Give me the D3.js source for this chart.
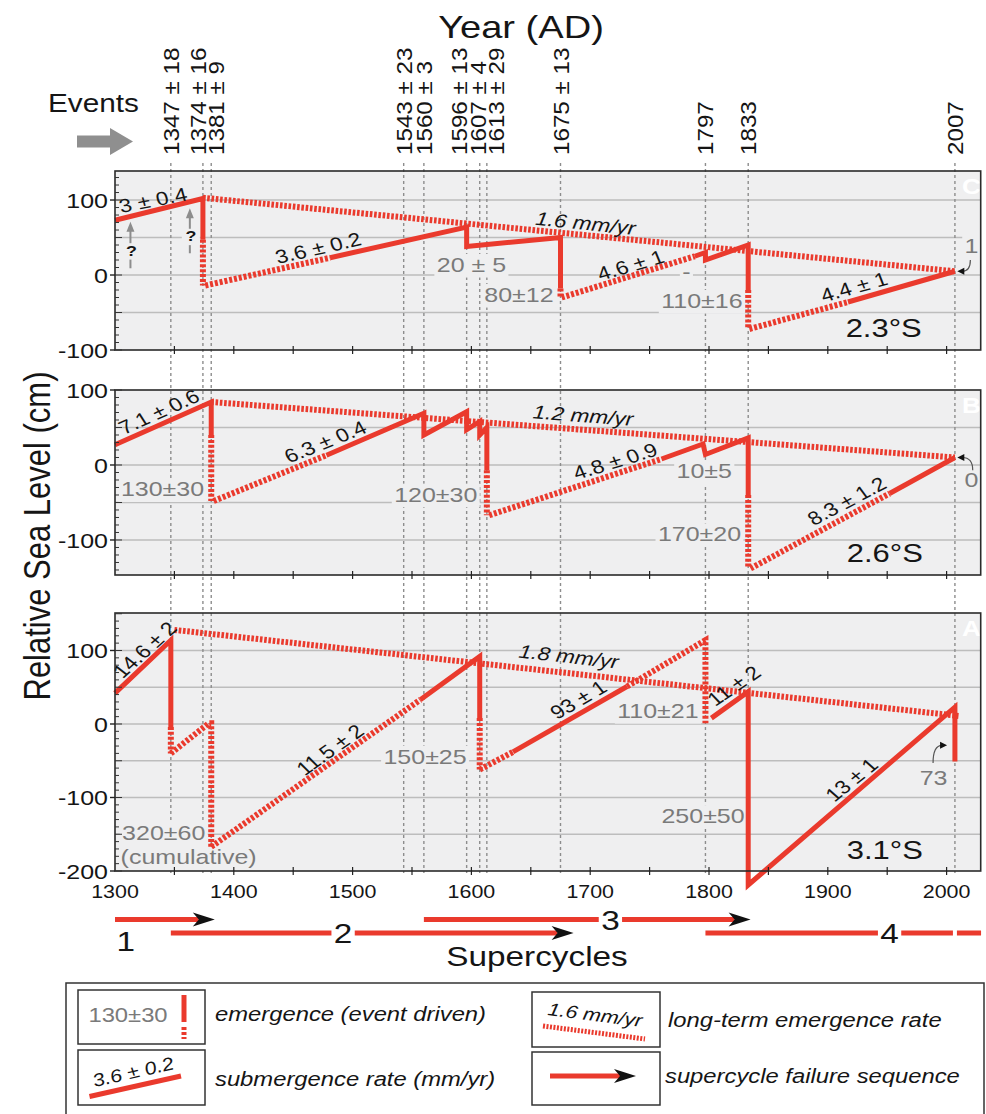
<!DOCTYPE html>
<html><head><meta charset="utf-8">
<script src="https://cdn.jsdelivr.net/npm/d3@7"></script>
<style>
body{margin:0;background:#fff;}
svg{display:block;font-family:"Liberation Sans",Arial,Helvetica,sans-serif;}
</style></head><body>
<svg id="chart" width="986" height="1114"></svg>
<script>
// ---------------- data ----------------
const eventYears  = [1347,1374,1381,1543,1560,1596,1607,1613,1675,1797,1833,2007];
const eventLabels = ["1347 ± 18","1374 ± 16","1381 ± 9","1543 ± 23","1560 ± 3","1596 ± 13","1607 ± 4","1613 ± 29","1675 ± 13","1797","1833","2007"];
const yearTicks   = [1300,1400,1500,1600,1700,1800,1900,2000];
const siteNames   = ["2.3°S","2.6°S","3.1°S"];
const panelLetters = ["C","B","A"];

// 2.3°S : relative sea level (cm) by year
const cSolid = [
  [[1300,73],[1374,102],[1374,47]],
  [[1481,23],[1596,64],[1596,38],[1675,50],[1675,-18]],
  [[1788,25],[1797,30],[1797,20],[1833,40],[1833,-20]],
  [[1917,-36],[2007,5]]
];
const cDotted = [
  [[1374,47],[1374,-14]],
  [[1376,-14],[1481,23]],
  [[1675,-18],[1675,-30]],
  [[1676,-30],[1788,25]],
  [[1833,-20],[1833,-72]],
  [[1834,-72],[1917,-36]]
];
const cTrend = [[1374,103],[2007,5]];
const cRates = [["3 ± 0.4",3.0,1332,100],["3.6 ± 0.2",3.6,1471,36],["4.6 ± 1",4.6,1734,13],["4.4 ± 1",4.4,1922,-16]];
const cTrendLabel = ["1.6 mm/yr",-1.6,1696,69];
const cEmergence = [["20 ± 5",1600,4],["80±12",1640,-36],["110±16",1794,-44],["-",1781,-5],["1",2021,29]];
const cPointer = [[2020,20],[2009,5]];
const cQueries = [[1313,9,71],[1363,29,89]];

// 2.6°S
const bSolid = [
  [[1300,27],[1381,84],[1381,40]],
  [[1478,13],[1560,69],[1560,40],[1596,71],[1596,47],[1607,58],[1607,40],[1613,50],[1613,-7]],
  [[1760,8],[1795,28],[1797,14],[1833,36],[1833,-40]],
  [[1952,-38],[2007,10]]
];
const bDotted = [
  [[1381,40],[1381,-48]],
  [[1383,-48],[1478,13]],
  [[1613,-7],[1613,-67]],
  [[1615,-67],[1760,8]],
  [[1833,-40],[1833,-138]],
  [[1835,-138],[1952,-38]]
];
const bTrend = [[1381,84],[2007,10]];
const bRates = [["7.1 ± 0.6",7.1,1337,71],["6.3 ± 0.4",6.3,1477,31],["4.8 ± 0.9",4.8,1721,5],["8.3 ± 1.2",8.3,1916,-48]];
const bTrendLabel = ["1.2 mm/yr",-1.2,1694,66];
const bEmergence = [["130±30",1340,-42],["120±30",1570,-49],["10±5",1796,-18],["170±20",1792,-102],["0",2021,-29]];
const bPointer = [[2022,-7],[2009,10]];

// 3.1°S
const aSolid = [
  [[1300,42],[1347,114],[1347,-4]],
  [[1557,33],[1607,92],[1607,8]],
  [[1635,-38],[1731,51]],
  [[1802,8],[1833,44],[1833,-219],[2007,23],[2007,-51]]
];
const aDotted = [
  [[1347,-4],[1347,-40]],
  [[1347,-40],[1379,1],[1381,1],[1381,-167]],
  [[1381,-167],[1557,33]],
  [[1607,8],[1607,-62]],
  [[1607,-62],[1635,-38]],
  [[1731,51],[1797,114],[1797,1]]
];
const aTrend = [[1350,128],[2010,11]];
const aRates = [["14.6 ± 2",14.6,1325,101],["11.5 ± 2",11.5,1481,-35],["93 ± 1",9.3,1690,33],["11 ± 2",11,1821,52],["13 ± 1",13,1920,-76]];
const aTrendLabel = ["1.8 mm/yr",-1.8,1682,92];
const aEmergence = [["320±60",1341,-158],["(cumulative)",1362,-190],["150±25",1561,-54],["110±21",1757,8],["250±50",1795,-135],["73",1989,-83]];
const aPointer = [[1988.6,-53],[2000.4,-29]];

// supercycles
const cycleNames = ["1","2","3","4"];
const cycleStart = [1300,1347,1560,1797];
const cycleEnd   = [1384,1686,1835,2029];
const cycleLabelYear = [1309,1492,1717,1952];

// ---------------- drawing ----------------
const SX = 1.19;             // horizontal stretch applied to the lettering
const RED = "#ea3a2d";
const GRAY_TXT = "#7a7a7a";
const PANEL_BG = "#efeff0";
const GRID = "#bdbdbd";

const svg = d3.select("#chart");
const x = d3.scaleLinear().domain([1300, 2028.7]).range([115, 980.7]);
const X0 = x.range()[0], X1 = x.range()[1];

function text(parent, str, px, py, o = {}) {
  const sx = o.sx || SX, sy = o.sy || 1;
  const g = parent.append("g")
    .attr("transform", `translate(${px},${py}) scale(${sx},${sy})` + (o.rotate ? ` rotate(${o.rotate})` : ""));
  const t = g.append("text").text(str)
    .attr("font-size", o.size || 20)
    .attr("fill", o.fill || "#151515")
    .attr("text-anchor", o.anchor || "middle");
  if (o.italic) t.attr("font-style", "italic");
  if (o.bold) t.attr("font-weight", "bold");
  if (o.dy) t.attr("dy", o.dy);
  if (o.bg) {
    const b = t.node().getBBox();
    g.insert("rect", "text")
      .attr("x", b.x - (o.padX || 3)).attr("y", b.y + 1)
      .attr("width", b.width + 2 * (o.padX || 3)).attr("height", b.height)
      .attr("fill", o.bg);
  }
  return g;
}
// rotation (before stretch) so the lettering follows a line of given rate (mm/yr)
function rateAngle(rate, y) {
  const m = (y(0) - y(rate / 10)) / (x(1301) - x(1300)); // image slope, up positive
  return -Math.atan(SX * m) * 180 / Math.PI;
}

const panels = [
  {site: siteNames[0], letter: panelLetters[0], domain: [-100, 138.7], range: [350, 171], ticks: [100, 0, -100],
   solid: cSolid, dotted: cDotted, trend: cTrend, rates: cRates, trendLabel: cTrendLabel, emerg: cEmergence,
   pointer: cPointer, queries: cQueries, siteAt: [1947, -82]},
  {site: siteNames[1], letter: panelLetters[1], domain: [-146.7, 100], range: [575, 390], ticks: [100, 0, -100],
   solid: bSolid, dotted: bDotted, trend: bTrend, rates: bRates, trendLabel: bTrendLabel, emerg: bEmergence,
   pointer: bPointer, queries: [], siteAt: [1948, -130]},
  {site: siteNames[2], letter: panelLetters[2], domain: [-200, 151], range: [871, 613], ticks: [100, 0, -100, -200],
   solid: aSolid, dotted: aDotted, trend: aTrend, rates: aRates, trendLabel: aTrendLabel, emerg: aEmergence,
   pointer: aPointer, queries: [], siteAt: [1948, -183]}
];
panels.forEach(p => {
  p.y = d3.scaleLinear().domain(p.domain).range(p.range);
  p.top = p.range[1]; p.bottom = p.range[0];
});

// panel backgrounds and grid
const back = svg.append("g");
panels.forEach(p => {
  back.append("rect").attr("x", X0).attr("y", p.top).attr("width", X1 - X0).attr("height", p.bottom - p.top)
    .attr("fill", PANEL_BG);
  const grid = d3.range(Math.ceil(p.domain[0] / 50) * 50, p.domain[1], 50)
    .filter(v => Math.abs(p.y(v) - p.top) > 2 && Math.abs(p.y(v) - p.bottom) > 2);
  back.selectAll(null).data(grid).join("line")
    .attr("x1", X0).attr("x2", X1).attr("y1", d => p.y(d)).attr("y2", d => p.y(d))
    .attr("stroke", GRID).attr("stroke-width", 1.3);
});

// event lines
svg.append("g").selectAll("line").data(eventYears).join("line")
  .attr("x1", d => x(d)).attr("x2", d => x(d))
  .attr("y1", 163).attr("y2", panels[2].bottom + 2)
  .attr("stroke", "#8d8d8d").attr("stroke-width", 1.4).attr("stroke-dasharray", "3,3");

// event labels, spread apart where they crowd
function spread(xs, gap) {
  let groups = xs.map((v, i) => ({idx: [i], c: v}));
  let changed = true;
  while (changed) {
    changed = false;
    for (let i = 0; i < groups.length - 1; i++) {
      const a = groups[i], b = groups[i + 1];
      const aEnd = a.c + (a.idx.length - 1) * gap / 2;
      const bStart = b.c - (b.idx.length - 1) * gap / 2;
      if (bStart - aEnd < gap) {
        const idx = a.idx.concat(b.idx);
        groups.splice(i, 2, {idx, c: d3.mean(idx, k => xs[k])});
        changed = true; break;
      }
    }
  }
  const out = [];
  groups.forEach(g => g.idx.forEach((k, j) => out[k] = g.c + (j - (g.idx.length - 1) / 2) * gap));
  return out;
}
const labelX = spread(eventYears.map(x), 18.5);
const evG = svg.append("g");
eventLabels.forEach((s, i) => {
  text(evG, s, labelX[i] + 8, 155, {size: 22, rotate: -90, anchor: "start", sx: 1.0, sy: 1.1});
});

// titles
text(svg, "Year (AD)", 521, 38, {size: 32});
text(svg, "Events", 48, 112, {size: 25, anchor: "start"});
svg.append("path").attr("d", "M77,135.5 H110 V128 L133,141.5 L110,155 V147.5 H77 Z").attr("fill", "#8f8f8f");
text(svg, "Relative Sea Level (cm)", 37, 536, {size: 31, rotate: -90, dy: "0.35em"});

// panel contents
panels.forEach((p, pi) => {
  const g = svg.append("g");
  const line = d3.line().x(d => x(d[0])).y(d => p.y(d[1]));

  // emergence amounts (grey, on a background patch)
  p.emerg.forEach(([s, yr, v]) => text(g, s, x(yr), p.y(v), {size: 21, fill: GRAY_TXT, bg: PANEL_BG, padX: 2}));

  // long-term emergence trend
  g.append("path").attr("d", line(p.trend)).attr("fill", "none")
    .attr("stroke", RED).attr("stroke-width", 6).attr("stroke-dasharray", "2.6,1.7");
  // dotted (inferred) parts
  p.dotted.forEach(seg => g.append("path").attr("d", line(seg)).attr("fill", "none")
    .attr("stroke", RED).attr("stroke-width", 6).attr("stroke-dasharray", "3,1.9"));
  // solid parts
  p.solid.forEach(seg => g.append("path").attr("d", line(seg)).attr("fill", "none")
    .attr("stroke", RED).attr("stroke-width", 5).attr("stroke-linejoin", "miter").attr("stroke-miterlimit", 3));

  // submergence rates
  p.rates.forEach(([s, rate, yr, v]) =>
    text(g, s, x(yr), p.y(v), {size: 19, rotate: rateAngle(rate, p.y), dy: "0.35em"}));
  const [ts, tr, tyr, tv] = p.trendLabel;
  text(g, ts, x(tyr), p.y(tv), {size: 19, italic: true, rotate: rateAngle(tr, p.y), dy: "0.35em"});

  // present-day pointer
  const [f, t] = p.pointer;
  const fx = x(f[0]), fy = p.y(f[1]), tx = x(t[0]), ty = p.y(t[1]);
  const s = Math.sign(tx - fx);
  g.append("path").attr("d", `M${fx},${fy} Q${fx},${ty} ${tx - s * 5},${ty}`)
    .attr("fill", "none").attr("stroke", "#555").attr("stroke-width", 1.2);
  g.append("path").attr("d", `M${tx},${ty} L${tx - s * 7},${ty - 3.5} L${tx - s * 7},${ty + 3.5} Z`).attr("fill", "#111");

  // uncertain-start arrows
  p.queries.forEach(([yr, v0, v1]) => {
    const qx = x(yr), y0 = p.y(v0), y1 = p.y(v1);
    g.append("line").attr("x1", qx).attr("x2", qx).attr("y1", y0).attr("y2", y1 + 8)
      .attr("stroke", "#8d8d8d").attr("stroke-width", 2);
    g.append("path").attr("d", `M${qx},${y1} L${qx - 4},${y1 + 10} L${qx + 4},${y1 + 10} Z`).attr("fill", "#8d8d8d");
    text(g, "?", qx + 1, y0 + (y1 - y0) * 0.38, {size: 15, bold: true, dy: "0.35em", bg: PANEL_BG, padX: 0});
  });

  // site latitude and panel letter
  text(g, p.site, x(p.siteAt[0]), p.y(p.siteAt[1]), {size: 26});
  text(g, p.letter, 962, p.top + 23, {size: 22, bold: true, fill: "#fff", anchor: "start"});

  // frame
  g.append("rect").attr("x", X0).attr("y", p.top).attr("width", X1 - X0).attr("height", p.bottom - p.top)
    .attr("fill", "none").attr("stroke", "#2a2a2a").attr("stroke-width", 1.6);

  // left axis ticks
  const minor = d3.range(Math.ceil(p.domain[0] / 10) * 10, p.domain[1] + 0.1, 10);
  g.selectAll(null).data(minor).join("line")
    .attr("x1", X0).attr("x2", d => X0 + (d % 50 === 0 ? 7 : 4))
    .attr("y1", d => p.y(d)).attr("y2", d => p.y(d)).attr("stroke", "#333").attr("stroke-width", 1);
  p.ticks.forEach(v => {
    g.append("line").attr("x1", X0 - 5).attr("x2", X0).attr("y1", p.y(v)).attr("y2", p.y(v))
      .attr("stroke", "#222").attr("stroke-width", 1.4);
    text(g, String(v), X0 - 7, p.y(v), {size: 21, anchor: "end", dy: "0.36em"});
  });
  // bottom ticks every 50 years
  g.selectAll(null).data(d3.range(1350, 2001, 50)).join("line")
    .attr("x1", d => x(d)).attr("x2", d => x(d)).attr("y1", p.bottom - 4).attr("y2", p.bottom + 4)
    .attr("stroke", "#222").attr("stroke-width", 1.2);
});

// year axis labels
yearTicks.forEach(yr => text(svg, String(yr), x(yr), 898, {size: 18}));

// supercycles
const sc = svg.append("g");
cycleNames.forEach((nm, i) => {
  const rowY = i % 2 ? 933 : 919.5;
  const x0 = x(cycleStart[i]), x1 = x(cycleEnd[i]);
  const last = i === cycleNames.length - 1;
  sc.append("line").attr("x1", x0).attr("x2", last ? x1 : x1 - 16).attr("y1", rowY).attr("y2", rowY)
    .attr("stroke", RED).attr("stroke-width", 5);
  if (!last) {
    sc.append("path").attr("d", `M${x1},${rowY} L${x1 - 22},${rowY - 7} L${x1 - 16},${rowY} L${x1 - 22},${rowY + 7} Z`)
      .attr("fill", "#111");
  } else {
    sc.append("line").attr("x1", x(2007)).attr("x2", x(2007)).attr("y1", rowY - 4).attr("y2", rowY + 4)
      .attr("stroke", "#fff").attr("stroke-width", 4);
  }
  if (i === 0) text(sc, nm, x(cycleLabelYear[i]), 951, {size: 28});
  else text(sc, nm, x(cycleLabelYear[i]), rowY + 10, {size: 28, bg: "#fff", padX: 2});
});
text(svg, "Supercycles", 537, 966, {size: 28});

// legend
const lg = svg.append("g");
lg.append("rect").attr("x", 66).attr("y", 983).attr("width", 918).attr("height", 140)
  .attr("fill", "#fff").attr("stroke", "#333").attr("stroke-width", 1.5);
[[78, 990, 127, 54], [78, 1050, 127, 55], [532, 992, 128, 55], [532, 1052, 128, 53]].forEach(([bx, by, bw, bh]) =>
  lg.append("rect").attr("x", bx).attr("y", by).attr("width", bw).attr("height", bh)
    .attr("fill", "#fff").attr("stroke", "#333").attr("stroke-width", 1.5));
text(lg, "130±30", 128, 1022, {size: 20, fill: GRAY_TXT});
lg.append("line").attr("x1", 184).attr("x2", 184).attr("y1", 995).attr("y2", 1022).attr("stroke", RED).attr("stroke-width", 5);
lg.append("line").attr("x1", 184).attr("x2", 184).attr("y1", 1027).attr("y2", 1039).attr("stroke", RED).attr("stroke-width", 5)
  .attr("stroke-dasharray", "3,2");
text(lg, "emergence (event driven)", 215, 1021, {size: 20, italic: true, anchor: "start"});

lg.append("line").attr("x1", 89.5).attr("y1", 1096.5).attr("x2", 181).attr("y2", 1076).attr("stroke", RED).attr("stroke-width", 5);
text(lg, "3.6 ± 0.2", 135, 1078, {size: 18, italic: true, rotate: -Math.atan(SX * 20.5 / 91.5) * 180 / Math.PI});
text(lg, "submergence rate (mm/yr)", 215, 1086, {size: 20, italic: true, anchor: "start"});

lg.append("line").attr("x1", 543).attr("y1", 1026).attr("x2", 645).attr("y2", 1039).attr("stroke", RED).attr("stroke-width", 5)
  .attr("stroke-dasharray", "2,1.5");
text(lg, "1.6 mm/yr", 594, 1021, {size: 18, italic: true, rotate: Math.atan(SX * 13 / 102) * 180 / Math.PI});
text(lg, "long-term emergence rate", 668, 1027, {size: 20, italic: true, anchor: "start"});

lg.append("line").attr("x1", 550).attr("x2", 620).attr("y1", 1076).attr("y2", 1076).attr("stroke", RED).attr("stroke-width", 5);
lg.append("path").attr("d", "M636,1076 L614,1069 L620,1076 L614,1083 Z").attr("fill", "#111");
text(lg, "supercycle failure sequence", 665, 1083, {size: 20, italic: true, anchor: "start"});
</script>
</body></html>
